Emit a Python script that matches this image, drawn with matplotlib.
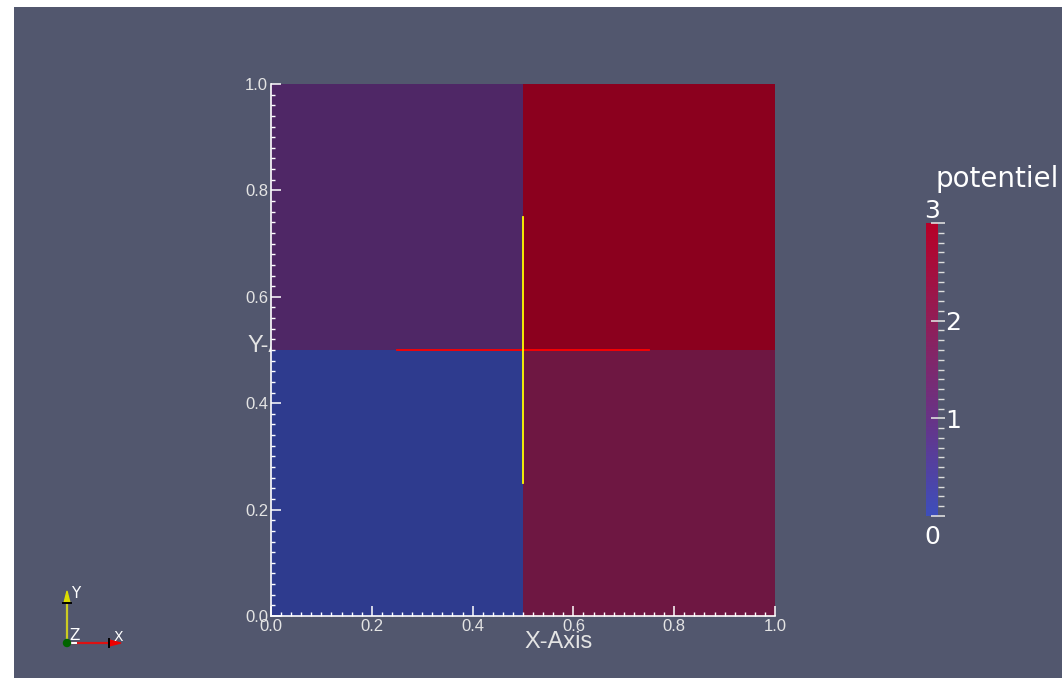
import numpy as np
import matplotlib
matplotlib.use('Agg')
import matplotlib.pyplot as plt
from matplotlib.colors import LinearSegmentedColormap, Normalize, to_rgb
from matplotlib.patches import Rectangle, Polygon, Circle
from matplotlib.ticker import MultipleLocator, FixedLocator
import matplotlib.cm as cm

# Maillage 2x2 : bords des cellules et valeur du potentiel par cellule
x_edges = [0.0, 0.5, 1.0]
y_edges = [0.0, 0.5, 1.0]
potentiel = [[0.0, 2.0],   # ligne du bas : gauche, droite
             [1.0, 3.0]]   # ligne du haut : gauche, droite

# Segments tracés par-dessus (coupe horizontale et verticale)
h_line_x = [0.25, 0.75]
h_line_y = [0.5, 0.5]
v_line_x = [0.5, 0.5]
v_line_y = [0.25, 0.75]

x_ticks = [0.0, 0.2, 0.4, 0.6, 0.8, 1.0]
y_ticks = [0.0, 0.2, 0.4, 0.6, 0.8, 1.0]
cbar_ticks = [0, 1, 2, 3]
vmin, vmax = 0.0, 3.0

# Palette bleu -> rouge de la barre, version assombrie pour la surface éclairée
cbar_colors = ['#3d4ebb', '#683386', '#911e57', '#b70027']
shade = 0.76

bg = '#52576e'
txt = '#e4e4e4'

cmap_bar = LinearSegmentedColormap.from_list('pot', cbar_colors)
cmap_surf = LinearSegmentedColormap.from_list(
    'pot_shade', [tuple(c * shade for c in to_rgb(h)) for h in cbar_colors])
norm = Normalize(vmin, vmax)

W, H = 1062, 678
fig = plt.figure(figsize=(W / 100, H / 100), dpi=100, facecolor='white')

# fond de la vue 3D (petite marge blanche en haut et à gauche)
fig.patches.append(Rectangle((14 / W, 0), 1 - 14 / W, (H - 7) / H,
                             transform=fig.transFigure, facecolor=bg,
                             edgecolor='none', zorder=-3))

# titre de l'axe Y, en partie caché derrière la surface
fig.text(247 / W, (H - 346) / H, 'Y-Axis', color=txt, fontsize=17,
         family='Liberation Sans', ha='left', va='center', zorder=-1)

# -----------------------------------------------------------------------------
# Surface colorée par le potentiel
ax = fig.add_axes([271 / W, (H - 616) / H, 504 / W, 532 / H])
ax.set_facecolor('none')
ax.pcolormesh(x_edges, y_edges, np.array(potentiel), cmap=cmap_surf, norm=norm,
              shading='flat')
ax.plot(h_line_x, h_line_y, color='#ff0000', lw=1.3)
ax.plot(v_line_x, v_line_y, color='#ffff00', lw=1.3)

ax.set_xlim(0, 1)
ax.set_ylim(0, 1)
for s in ['top', 'right']:
    ax.spines[s].set_visible(False)
for s in ['left', 'bottom']:
    ax.spines[s].set_color('white')
    ax.spines[s].set_linewidth(1.2)

ax.xaxis.set_major_locator(FixedLocator(x_ticks))
ax.yaxis.set_major_locator(FixedLocator(y_ticks))
ax.xaxis.set_minor_locator(MultipleLocator(0.02))
ax.yaxis.set_minor_locator(MultipleLocator(0.02))
ax.set_xticklabels([f'{v:.1f}' for v in x_ticks])
ax.set_yticklabels([f'{v:.1f}' for v in y_ticks])
ax.tick_params(which='major', direction='in', length=7, width=1.1,
               colors='white', labelcolor=txt, labelsize=12, pad=2)
ax.tick_params(which='minor', direction='in', length=3, width=1,
               colors='white')
for lab in ax.get_xticklabels() + ax.get_yticklabels():
    lab.set_family('Liberation Sans')

ax.set_xlabel('X-Axis', color=txt, fontsize=17, family='Liberation Sans')
ax.xaxis.set_label_coords(0.57, -0.028)

# -----------------------------------------------------------------------------
# Barre de couleur "potentiel"
cax = fig.add_axes([926 / W, (H - 516) / H, 12 / W, 293 / H])
sm = cm.ScalarMappable(norm=norm, cmap=cmap_bar)
cb = fig.colorbar(sm, cax=cax)
cb.outline.set_visible(False)
cb.set_ticks(cbar_ticks)
cb.set_ticklabels(['' if t in (vmin, vmax) else str(t) for t in cbar_ticks])
cax.yaxis.set_minor_locator(MultipleLocator(0.1))
cax.tick_params(which='major', direction='inout', length=10, width=1.2,
                colors='#dddddd', labelcolor='white', labelsize=18, pad=0)
cax.tick_params(which='minor', direction='out', length=4, width=1,
                colors='#dddddd')
cax.text(0.5, 1.0, f'{vmax:g}', transform=cax.transAxes, color='white',
         fontsize=18, ha='center', va='bottom')
cax.text(0.5, -0.03, f'{vmin:g}', transform=cax.transAxes, color='white',
         fontsize=18, ha='center', va='top')
fig.text(935 / W, (H - 165) / H, 'potentiel', color='white', fontsize=20,
         ha='left', va='top')

# -----------------------------------------------------------------------------
# Petit repère d'orientation en bas à gauche
oax = fig.add_axes([40 / W, (H - 670) / H, 100 / W, 100 / H])
oax.set_xlim(0, 100)
oax.set_ylim(0, 100)
oax.axis('off')
ox, oy = 27, 27
oax.plot([ox, ox], [oy, oy + 40], color='#cccc22', lw=1.6)
oax.add_patch(Polygon([[ox - 3, oy + 40], [ox + 3, oy + 40], [ox, oy + 52]],
                      color='#dddd00'))
oax.plot([ox - 4, ox + 4], [oy + 40, oy + 40], color='black', lw=1.4)
oax.plot([ox, ox + 42], [oy, oy], color='#dd1111', lw=1.6)
oax.add_patch(Polygon([[ox + 42, oy - 3], [ox + 42, oy + 3], [ox + 54, oy]],
                      color='#ee0000'))
oax.plot([ox + 42, ox + 42], [oy - 4, oy + 4], color='black', lw=1.4)
oax.plot([ox, ox + 9], [oy, oy], color='white', lw=1.4)
oax.add_patch(Circle((ox, oy), 3.5, color='#006400', zorder=5))
oax.text(ox + 4, oy + 50, 'Y', color='white', fontsize=11, ha='left', va='center')
oax.text(ox + 2, oy + 7, 'Z', color='white', fontsize=11, ha='left', va='center')
oax.text(ox + 47, oy + 6, 'X', color='white', fontsize=10, ha='left', va='center')

plt.savefig('out.png', dpi=100, facecolor=fig.get_facecolor())
